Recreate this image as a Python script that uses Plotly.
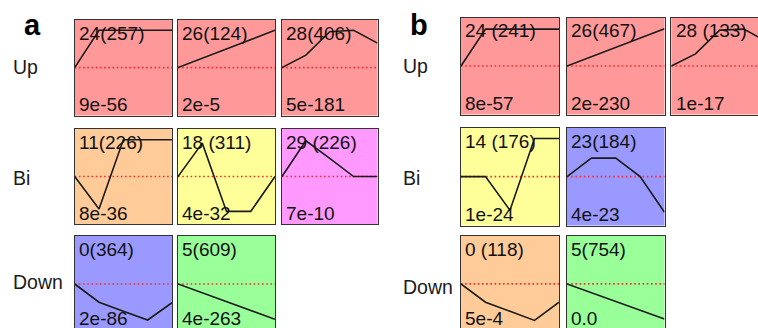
import plotly.graph_objects as go

W, H = 758, 328

ROW_NAMES = ["Up", "Bi", "Down"]
TIME_POINTS = [0, 1, 2, 3, 4]

# ---- panel a ----
a_rows = [0, 0, 0, 1, 1, 1, 2, 2]
a_cols = [0, 1, 2, 0, 1, 2, 0, 1]
a_titles = ["24(257)", "26(124)", "28(406)", "11(226)", "18 (311)", "29 (226)", "0(364)", "5(609)"]
a_pvalues = ["9e-56", "2e-5", "5e-181", "8e-36", "4e-32", "7e-10", "2e-86", "4e-263"]
a_fills = ["#FF9999", "#FF9999", "#FF9999", "#FFCC99", "#FFFF99", "#FF99FF", "#9999FF", "#99FF99"]
a_profiles = [
    [0, 3.9, 3.9, 3.9, 3.9],
    [0, 0.97, 1.95, 2.92, 3.9],
    [0, 1.3, 3.75, 3.9, 2.55],
    [0, -3.4, 3.85, 3.85, 3.85],
    [0, 3.5, -3.65, -3.65, 0],
    [0, 3.75, 1.9, 0, 0],
    [0, -1.9, -2.85, -3.75, -1.95],
    [0, -0.92, -1.84, -2.76, -3.68],
]

# ---- panel b ----
b_rows = [0, 0, 0, 1, 1, 2, 2]
b_cols = [0, 1, 2, 0, 1, 0, 1]
b_titles = ["24 (241)", "26(467)", "28 (133)", "14 (176)", "23(184)", "0 (118)", "5(754)"]
b_pvalues = ["8e-57", "2e-230", "1e-17", "1e-24", "4e-23", "5e-4", "0.0"]
b_fills = ["#FF9999", "#FF9999", "#FF9999", "#FFFF99", "#9999FF", "#FFCC99", "#99FF99"]
b_profiles = [
    [0, 3.8, 3.8, 3.8, 3.8],
    [0, 0.96, 1.93, 2.89, 3.85],
    [0, 1.25, 3.7, 3.8, 2.45],
    [0, 0, -3.45, 3.9, 3.9],
    [0, 1.9, 1.9, 0, -3.65],
    [0, -1.9, -2.85, -3.8, -1.9],
    [0, -0.91, -1.83, -2.74, -3.65],
]

# box geometry in pixels (left/right of each column, top/bottom of each row)
PANELS = [
    dict(name="a", label_xy=(21.5, 25.0),
         cols=[(74.7, 172.0), (178.0, 275.0), (282.0, 377.5)],
         rows=[(19.7, 115.5), (128.8, 224.3), (236.0, 332.0)],
         row_label_x=11.0, row_label_y=[67.0, 177.5, 281.7],
         rows_idx=a_rows, cols_idx=a_cols, titles=a_titles,
         pvalues=a_pvalues, fills=a_fills, profiles=a_profiles),
    dict(name="b", label_xy=(408.0, 24.6),
         cols=[(461.0, 559.0), (567.0, 664.5), (671.3, 768.0)],
         rows=[(17.5, 114.5), (127.8, 225.5), (235.8, 332.0)],
         row_label_x=401.0, row_label_y=[66.0, 177.5, 286.7],
         rows_idx=b_rows, cols_idx=b_cols, titles=b_titles,
         pvalues=b_pvalues, fills=b_fills, profiles=b_profiles),
]

FONT = "Liberation Sans, Arial, sans-serif"
YLIM = 5.0

fig = go.Figure()
layout = dict(
    width=W, height=H, margin=dict(l=0, r=0, t=0, b=0),
    paper_bgcolor="white", plot_bgcolor="rgba(0,0,0,0)",
    showlegend=False,
)
shapes, annotations = [], []


def px(x):
    return x / W


def py(y):
    return 1 - y / H


k = 0
for panel in PANELS:
    annotations.append(dict(
        text="<b>%s</b>" % panel["name"], x=px(panel["label_xy"][0]), y=py(panel["label_xy"][1]),
        xref="paper", yref="paper", xanchor="left", yanchor="middle", showarrow=False,
        font=dict(family=FONT, size=29, color="#000000")))
    for i, rn in enumerate(ROW_NAMES):
        annotations.append(dict(
            text=rn, x=px(panel["row_label_x"]), y=py(panel["row_label_y"][i]),
            xref="paper", yref="paper", xanchor="left", yanchor="middle", showarrow=False,
            font=dict(family=FONT, size=19.5, color="#1a1a1a")))

    for r, c, title, pv, fill, prof in zip(panel["rows_idx"], panel["cols_idx"], panel["titles"],
                                           panel["pvalues"], panel["fills"], panel["profiles"]):
        k += 1
        sfx = "" if k == 1 else str(k)
        x0, x1 = panel["cols"][c]
        y0, y1 = panel["rows"][r]
        vx1, vy1 = min(x1, W), min(y1, H)
        xr = [0, 4 * (vx1 - x0) / (x1 - x0)]
        yr = [YLIM - 2 * YLIM * (vy1 - y0) / (y1 - y0), YLIM]
        bottom_visible = y1 <= H
        right_visible = x1 <= W
        layout["xaxis" + sfx] = dict(
            domain=[px(x0), px(vx1)], range=xr, anchor="y" + sfx,
            showgrid=False, zeroline=False, showticklabels=False, ticks="",
            showline=True, linecolor="#333333", linewidth=1.3,
            mirror=bottom_visible, side="bottom" if bottom_visible else "top", fixedrange=True)
        layout["yaxis" + sfx] = dict(
            domain=[py(vy1), py(y0)], range=yr, anchor="x" + sfx,
            showgrid=False, zeroline=False, showticklabels=False, ticks="",
            showline=True, linecolor="#333333", linewidth=1.3,
            mirror=right_visible, side="left", fixedrange=True)

        xd, yd = "x%s domain" % sfx, "y%s domain" % sfx
        shapes.append(dict(type="rect", xref=xd, yref=yd, x0=0, x1=1, y0=0, y1=1,
                           fillcolor=fill, line=dict(width=0), layer="below"))
        shapes.append(dict(type="line", xref=xd, yref="y" + sfx, x0=0, x1=1, y0=0, y1=0,
                           line=dict(color="#FF2A2A", width=1.6, dash="1.6px,2.6px"), layer="below"))

        fig.add_trace(go.Scatter(
            x=TIME_POINTS, y=prof, mode="lines", xaxis="x" + sfx, yaxis="y" + sfx,
            line=dict(color="#1a1a1a", width=1.6), hoverinfo="skip", cliponaxis=True))

        # bottom label sits a little higher when the box runs past the lower edge
        pv_y = y1 - 11.0 if bottom_visible else H - 9.5
        annotations.append(dict(
            text=title, x=px(x0 + 2.2), y=py(y0 + 13.5), xref="paper", yref="paper",
            xanchor="left", yanchor="middle", showarrow=False,
            font=dict(family=FONT, size=19, color="#111111")))
        annotations.append(dict(
            text=pv, x=px(x0 + 2.2), y=py(pv_y), xref="paper", yref="paper",
            xanchor="left", yanchor="middle", showarrow=False,
            font=dict(family=FONT, size=19, color="#111111")))

layout["shapes"] = shapes
layout["annotations"] = annotations
fig.update_layout(**layout)
fig.write_html("out.html")
